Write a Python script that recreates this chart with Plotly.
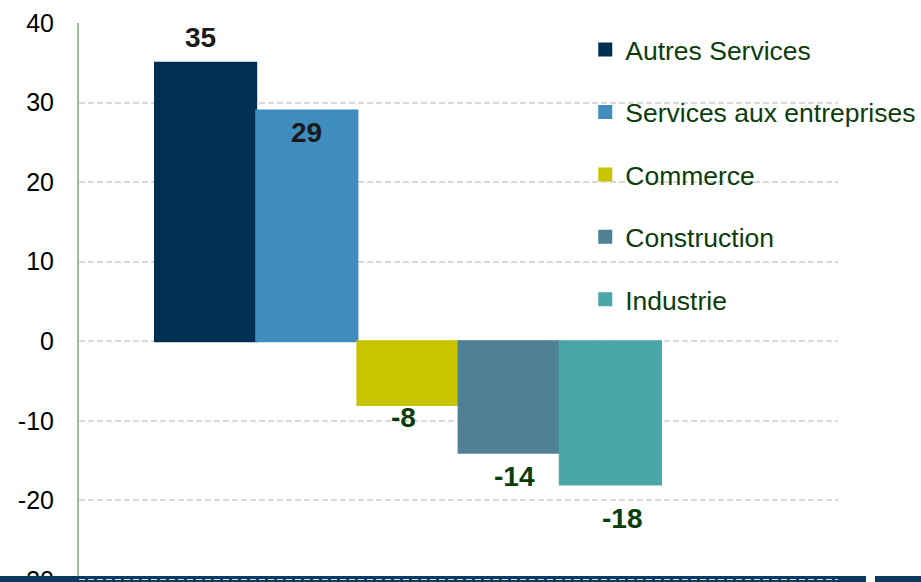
import plotly.graph_objects as go

series = ["Autres Services", "Services aux entreprises", "Commerce", "Construction", "Industrie"]
values = [35, 29, -8, -14, -18]
colors = ["#002F52", "#3F8CBF", "#C8C400", "#508093", "#4AA6A8"]
label_colors = ["#1a1a1a", "#1a1a1a", "#0B3D0B", "#0B3D0B", "#0B3D0B"]
tick_vals = [-30, -20, -10, 0, 10, 20, 30, 40]
tick_text = ["-30", "-20", "-10", "0", "10", "20", "30", "40"]

# label offsets (pixels) – style only
label_dx = [-5, 0, -5, 5, 12]
label_dy = [25, -22, -13, -24, -34]

fig = go.Figure()
for i, (name, v, c) in enumerate(zip(series, values, colors)):
    fig.add_trace(go.Bar(x=[i], y=[v], name=name, marker_color=c, width=1,
                         marker_line_width=2, marker_line_color=c,
                         legendgroup=name, showlegend=True))
    fig.add_annotation(x=i, y=v, text=f"<b>{v}</b>", showarrow=False,
                       xshift=label_dx[i], yshift=label_dy[i], yanchor="middle",
                       font=dict(family="Liberation Sans, Arial", size=28, color=label_colors[i]))

fig.update_layout(
    width=921, height=582,
    margin=dict(l=79, r=83, t=23, b=2, autoexpand=False),
    paper_bgcolor="white", plot_bgcolor="white",
    barmode="overlay",
    font=dict(family="Liberation Sans, Arial", color="#000000"),
    xaxis=dict(range=[-1.251, 6.249], showticklabels=False, showgrid=False,
               zeroline=False, showline=False, ticks="", automargin=False),
    yaxis=dict(range=[-30, 40], tickvals=tick_vals, ticktext=tick_text,
               tickfont=dict(size=25, color="#000000"), ticklabeloverflow="allow",
               showgrid=True, gridcolor="#D9D9D9", gridwidth=2, griddash="6px,3px",
               zeroline=False, showline=True, linecolor="#A3B8A3", linewidth=2,
               ticks="", ticklabelstandoff=18, automargin=False),
    legend=dict(x=0.667, xanchor="left", y=0.995, yanchor="top",
                font=dict(size=26.5, color="#0B3D0B"), tracegroupgap=25,
                bgcolor="rgba(0,0,0,0)", itemclick=False),
    showlegend=True,
    shapes=[
        dict(type="rect", xref="paper", yref="paper", x0=-79/759, x1=(866-79)/759,
             y0=-2/557, y1=4/557, fillcolor="#0B3B60", line_width=0, layer="above"),
        dict(type="rect", xref="paper", yref="paper", x0=(875-79)/759, x1=(921-79)/759,
             y0=-2/557, y1=4/557, fillcolor="#0B3B60", line_width=0, layer="above"),
        dict(type="line", xref="paper", yref="y", x0=0, x1=1, y0=-30, y1=-30,
             line=dict(color="#D9D9D9", width=2, dash="6px,3px"), layer="above"),
    ],
)

fig.write_html("out.html")
